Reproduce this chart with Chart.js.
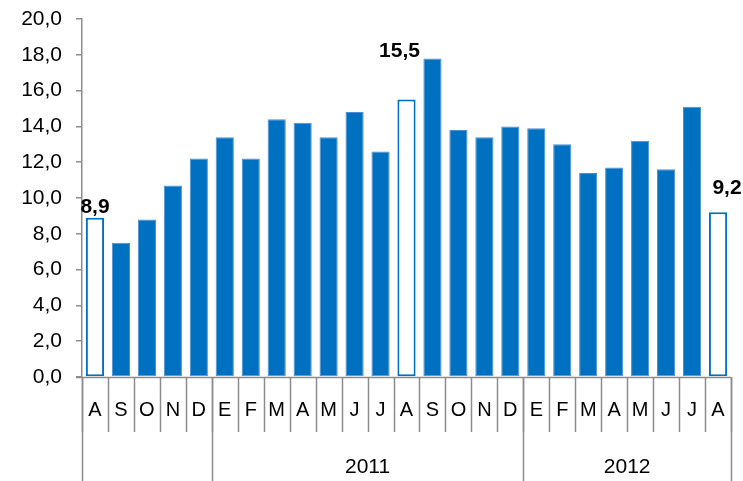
<!DOCTYPE html>
<html>
<head>
<meta charset="utf-8">
<script src="https://cdn.jsdelivr.net/npm/chart.js@4/dist/chart.umd.min.js"></script>
<style>
  html, body { margin: 0; padding: 0; background: #fff; }
  #wrap { width: 743px; height: 481px; }
</style>
</head>
<body>
<div id="wrap"><canvas id="chart" width="743" height="481"></canvas></div>
<script>
// Datos
const months = ['A','S','O','N','D','E','F','M','A','M','J','J','A','S','O','N','D','E','F','M','A','M','J','J','A'];
const values = [8.9, 7.5, 8.8, 10.7, 12.2, 13.4, 12.2, 14.4, 14.2, 13.4, 14.8, 12.6, 15.5, 17.8, 13.8, 13.4, 14.0, 13.9, 13.0, 11.4, 11.7, 13.2, 11.6, 15.1, 9.2];
const years = ['', '2011', '2012'];
const yearSpans = [5, 12, 8];
const highlighted = [0, 12, 24];
const yTicks = [0, 2, 4, 6, 8, 10, 12, 14, 16, 18, 20];

const blue = '#0070C0';
const axisGrey = '#8c8c8c';
const font = 'Liberation Sans, Arial, sans-serif';

const fmt = v => v.toFixed(1).replace('.', ',');

// Etiquetas de valor y ejes de categorias
const extrasPlugin = {
    id: 'extras',
    afterDatasetsDraw(chart) {
        const ctx = chart.ctx;
        const meta = chart.getDatasetMeta(0);
        const offsets = { 0: [0, -5], 12: [-7, -43], 24: [9, -18] };
        ctx.save();
        ctx.fillStyle = '#000';
        ctx.font = 'bold 21px ' + font;
        ctx.textAlign = 'center';
        ctx.textBaseline = 'alphabetic';
        highlighted.forEach(i => {
            const bar = meta.data[i];
            const off = offsets[i] || [0, -4];
            ctx.fillText(fmt(values[i]), bar.x + off[0], bar.y + off[1]);
        });
        ctx.restore();
    },
    afterDraw(chart) {
        const ctx = chart.ctx;
        const area = chart.chartArea;
        const step = (area.right - area.left) / months.length;
        const bottom = area.bottom;
        ctx.save();
        ctx.strokeStyle = axisGrey;
        ctx.lineWidth = 1.5;
        // linea base
        ctx.beginPath();
        ctx.moveTo(area.left - 6, bottom + 0.5);
        ctx.lineTo(area.right, bottom + 0.5);
        ctx.stroke();
        // separadores de meses
        for (let i = 0; i <= months.length; i++) {
            const px = Math.round(area.left + i * step) + 0.5;
            ctx.beginPath();
            ctx.moveTo(px, bottom);
            ctx.lineTo(px, bottom + 55);
            ctx.stroke();
        }
        // separadores de años
        let idx = 0;
        const bounds = [0];
        yearSpans.forEach(s => { idx += s; bounds.push(idx); });
        bounds.forEach(b => {
            const px = Math.round(area.left + b * step) + 0.5;
            ctx.beginPath();
            ctx.moveTo(px, bottom);
            ctx.lineTo(px, chart.height);
            ctx.stroke();
        });
        ctx.fillStyle = '#000';
        ctx.font = '21px ' + font;
        ctx.textAlign = 'center';
        ctx.textBaseline = 'middle';
        years.forEach((y, k) => {
            const cx = area.left + (bounds[k] + bounds[k + 1]) / 2 * step;
            ctx.fillText(y, cx, bottom + 90);
        });
        ctx.restore();
    }
};

new Chart(document.getElementById('chart').getContext('2d'), {
    type: 'bar',
    data: {
        labels: months,
        datasets: [{
            data: values,
            backgroundColor: values.map((v, i) => highlighted.includes(i) ? '#ffffff' : blue),
            borderColor: values.map((v, i) => highlighted.includes(i) ? blue : '#4a8fd4'),
            borderWidth: values.map((v, i) => highlighted.includes(i) ? 2 : 1),
            borderSkipped: false,
            categoryPercentage: 1,
            barPercentage: 0.7
        }]
    },
    options: {
        responsive: false,
        animation: false,
        devicePixelRatio: 1,
        layout: { padding: { top: 19, right: 12, left: 0, bottom: 0 } },
        plugins: {
            legend: { display: false },
            tooltip: { enabled: false }
        },
        scales: {
            x: {
                grid: { display: false, drawTicks: false },
                border: { display: false },
                ticks: {
                    color: '#000',
                    font: { family: font, size: 20 },
                    padding: 21,
                    maxRotation: 0,
                    autoSkip: false
                },
                afterFit(scale) {
                    scale.height = 104;
                    scale.paddingLeft = 0;
                    scale.paddingRight = 0;
                }
            },
            y: {
                min: 0,
                max: 20,
                afterBuildTicks(scale) { scale.ticks = yTicks.map(v => ({ value: v })); },
                grid: { drawOnChartArea: false, color: axisGrey, tickLength: 6, lineWidth: 1.5 },
                border: { color: axisGrey, width: 1.5 },
                ticks: {
                    color: '#000',
                    font: { family: font, size: 21 },
                    padding: 14,
                    callback: v => fmt(v)
                },
                afterFit(scale) {
                    scale.width = 82;
                    scale.paddingTop = 0;
                    scale.paddingBottom = 0;
                }
            }
        }
    },
    plugins: [extrasPlugin]
});
</script>
</body>
</html>
